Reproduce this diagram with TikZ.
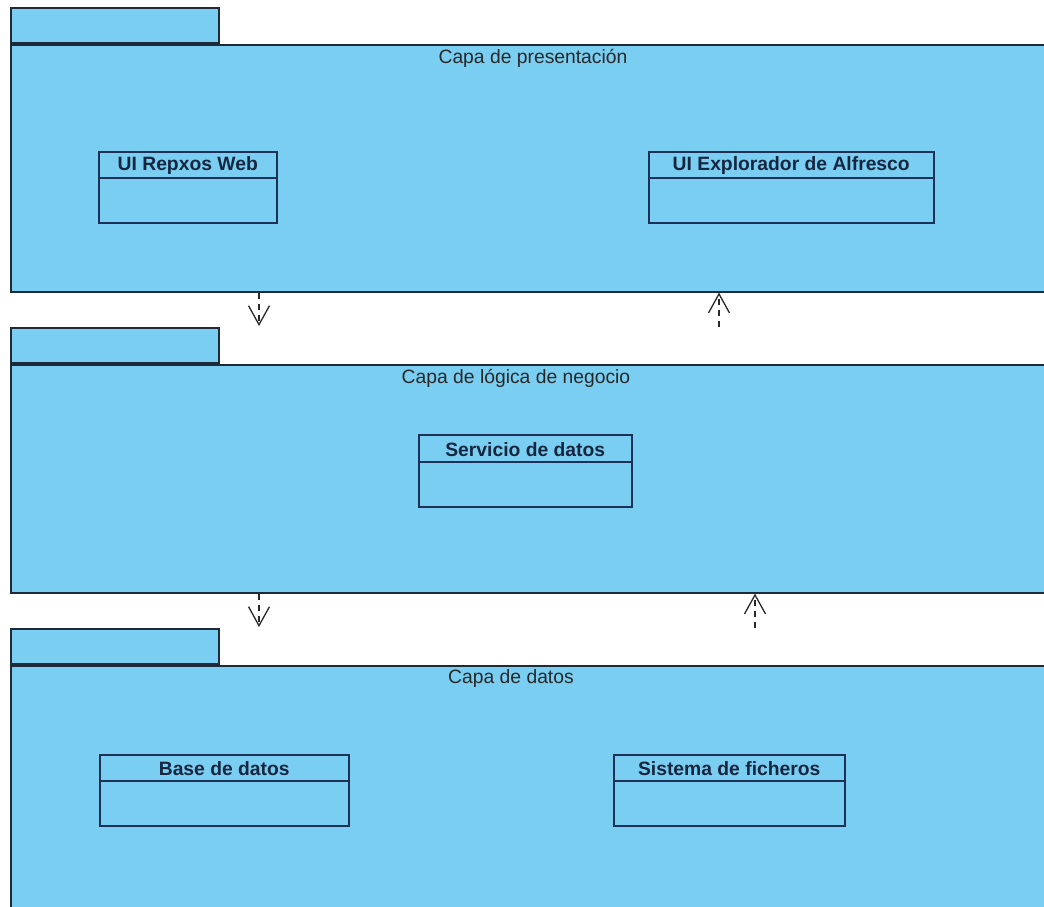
\documentclass[tikz,border=0pt]{standalone}
\usepackage{fontspec}
\setmainfont{Liberation Sans}
\usetikzlibrary{arrows.meta}
\definecolor{pkgfill}{RGB}{122,206,242}
\definecolor{pkgline}{RGB}{30,42,56}
\definecolor{clsline}{RGB}{28,48,88}
\definecolor{clstext}{RGB}{22,38,64}
\definecolor{deptext}{RGB}{40,40,40}
\begin{document}
\begin{tikzpicture}[x=1pt,y=-1pt,
  pkgtab/.style={draw=pkgline, fill=pkgfill, line width=1.6pt, anchor=south west,
    minimum width=208pt, minimum height=35pt, inner sep=0pt},
  pkgbody/.style={draw=pkgline, fill=pkgfill, line width=1.6pt, anchor=north west,
    minimum width=1100pt, inner sep=0pt},
  pkglabel/.style={font=\fontsize{19.3}{22}\selectfont, text=deptext, inner sep=0pt},
  clsbox/.style={draw=clsline, line width=1.5pt, inner sep=0pt, anchor=north west},
  clssep/.style={draw=clsline, line width=1.5pt},
  clsname/.style={font=\fontsize{19.3}{22}\selectfont\bfseries, text=clstext, inner sep=0pt},
  dep/.style={draw=deptext, line width=1.3pt, dash pattern=on 6pt off 5pt,
    -{Straight Barb[length=19pt,width=21pt,line width=1.3pt]}}
]
\useasboundingbox (0,0) rectangle (1044,907);
\clip (0,0) rectangle (1044,907);

% Presentation layer
\node[pkgtab] (t1) at (10,44) {};
\node[pkgbody, minimum height=247pt] (p1) at (10,44) {};
\node[pkglabel] (l1) at (533,58) {Capa de presentación};

% Business logic layer
\node[pkgtab] (t2) at (10,364) {};
\node[pkgbody, minimum height=228pt] (p2) at (10,364) {};
\node[pkglabel] (l2) at (516,378) {Capa de lógica de negocio};

% Data layer
\node[pkgtab] (t3) at (10,665) {};
\node[pkgbody, minimum height=300pt] (p3) at (10,665) {};
\node[pkglabel] (l3) at (511,679) {Capa de datos};

% Classes
\node[clsbox, minimum width=178pt, minimum height=71pt] (c1) at (98,151) {};
\draw[clssep] ([yshift=-27pt]c1.north west) -- ([yshift=-27pt]c1.north east);
\node[clsname] (n1) at ([yshift=-15pt]c1.north) {UI Repxos Web};

\node[clsbox, minimum width=285pt, minimum height=71pt] (c2) at (648,151) {};
\draw[clssep] ([yshift=-27pt]c2.north west) -- ([yshift=-27pt]c2.north east);
\node[clsname] (n2) at ([yshift=-15pt]c2.north) {UI Explorador de Alfresco};

\node[clsbox, minimum width=213pt, minimum height=72pt] (c3) at (418,434) {};
\draw[clssep] ([yshift=-28pt]c3.north west) -- ([yshift=-28pt]c3.north east);
\node[clsname] (n3) at ([yshift=-16pt]c3.north) {Servicio de datos};

\node[clsbox, minimum width=249pt, minimum height=71pt] (c4) at (99,754) {};
\draw[clssep] ([yshift=-27pt]c4.north west) -- ([yshift=-27pt]c4.north east);
\node[clsname] (n4) at ([yshift=-15pt]c4.north) {Base de datos};

\node[clsbox, minimum width=231pt, minimum height=71pt] (c5) at (613,754) {};
\draw[clssep] ([yshift=-27pt]c5.north west) -- ([yshift=-27pt]c5.north east);
\node[clsname] (n5) at ([yshift=-15pt]c5.north) {Sistema de ficheros};

% Dependencies between layers
\coordinate (d1) at (259,326);
\coordinate (u1) at (719,327);
\coordinate (d2) at (259,627);
\coordinate (u2) at (755,628);
\draw[dep] (p1.south west -| d1) -- (d1);
\draw[dep] (u1) -- (p1.south west -| u1);
\draw[dep] (p2.south west -| d2) -- (d2);
\draw[dep] (u2) -- (p2.south west -| u2);
\end{tikzpicture}
\end{document}
